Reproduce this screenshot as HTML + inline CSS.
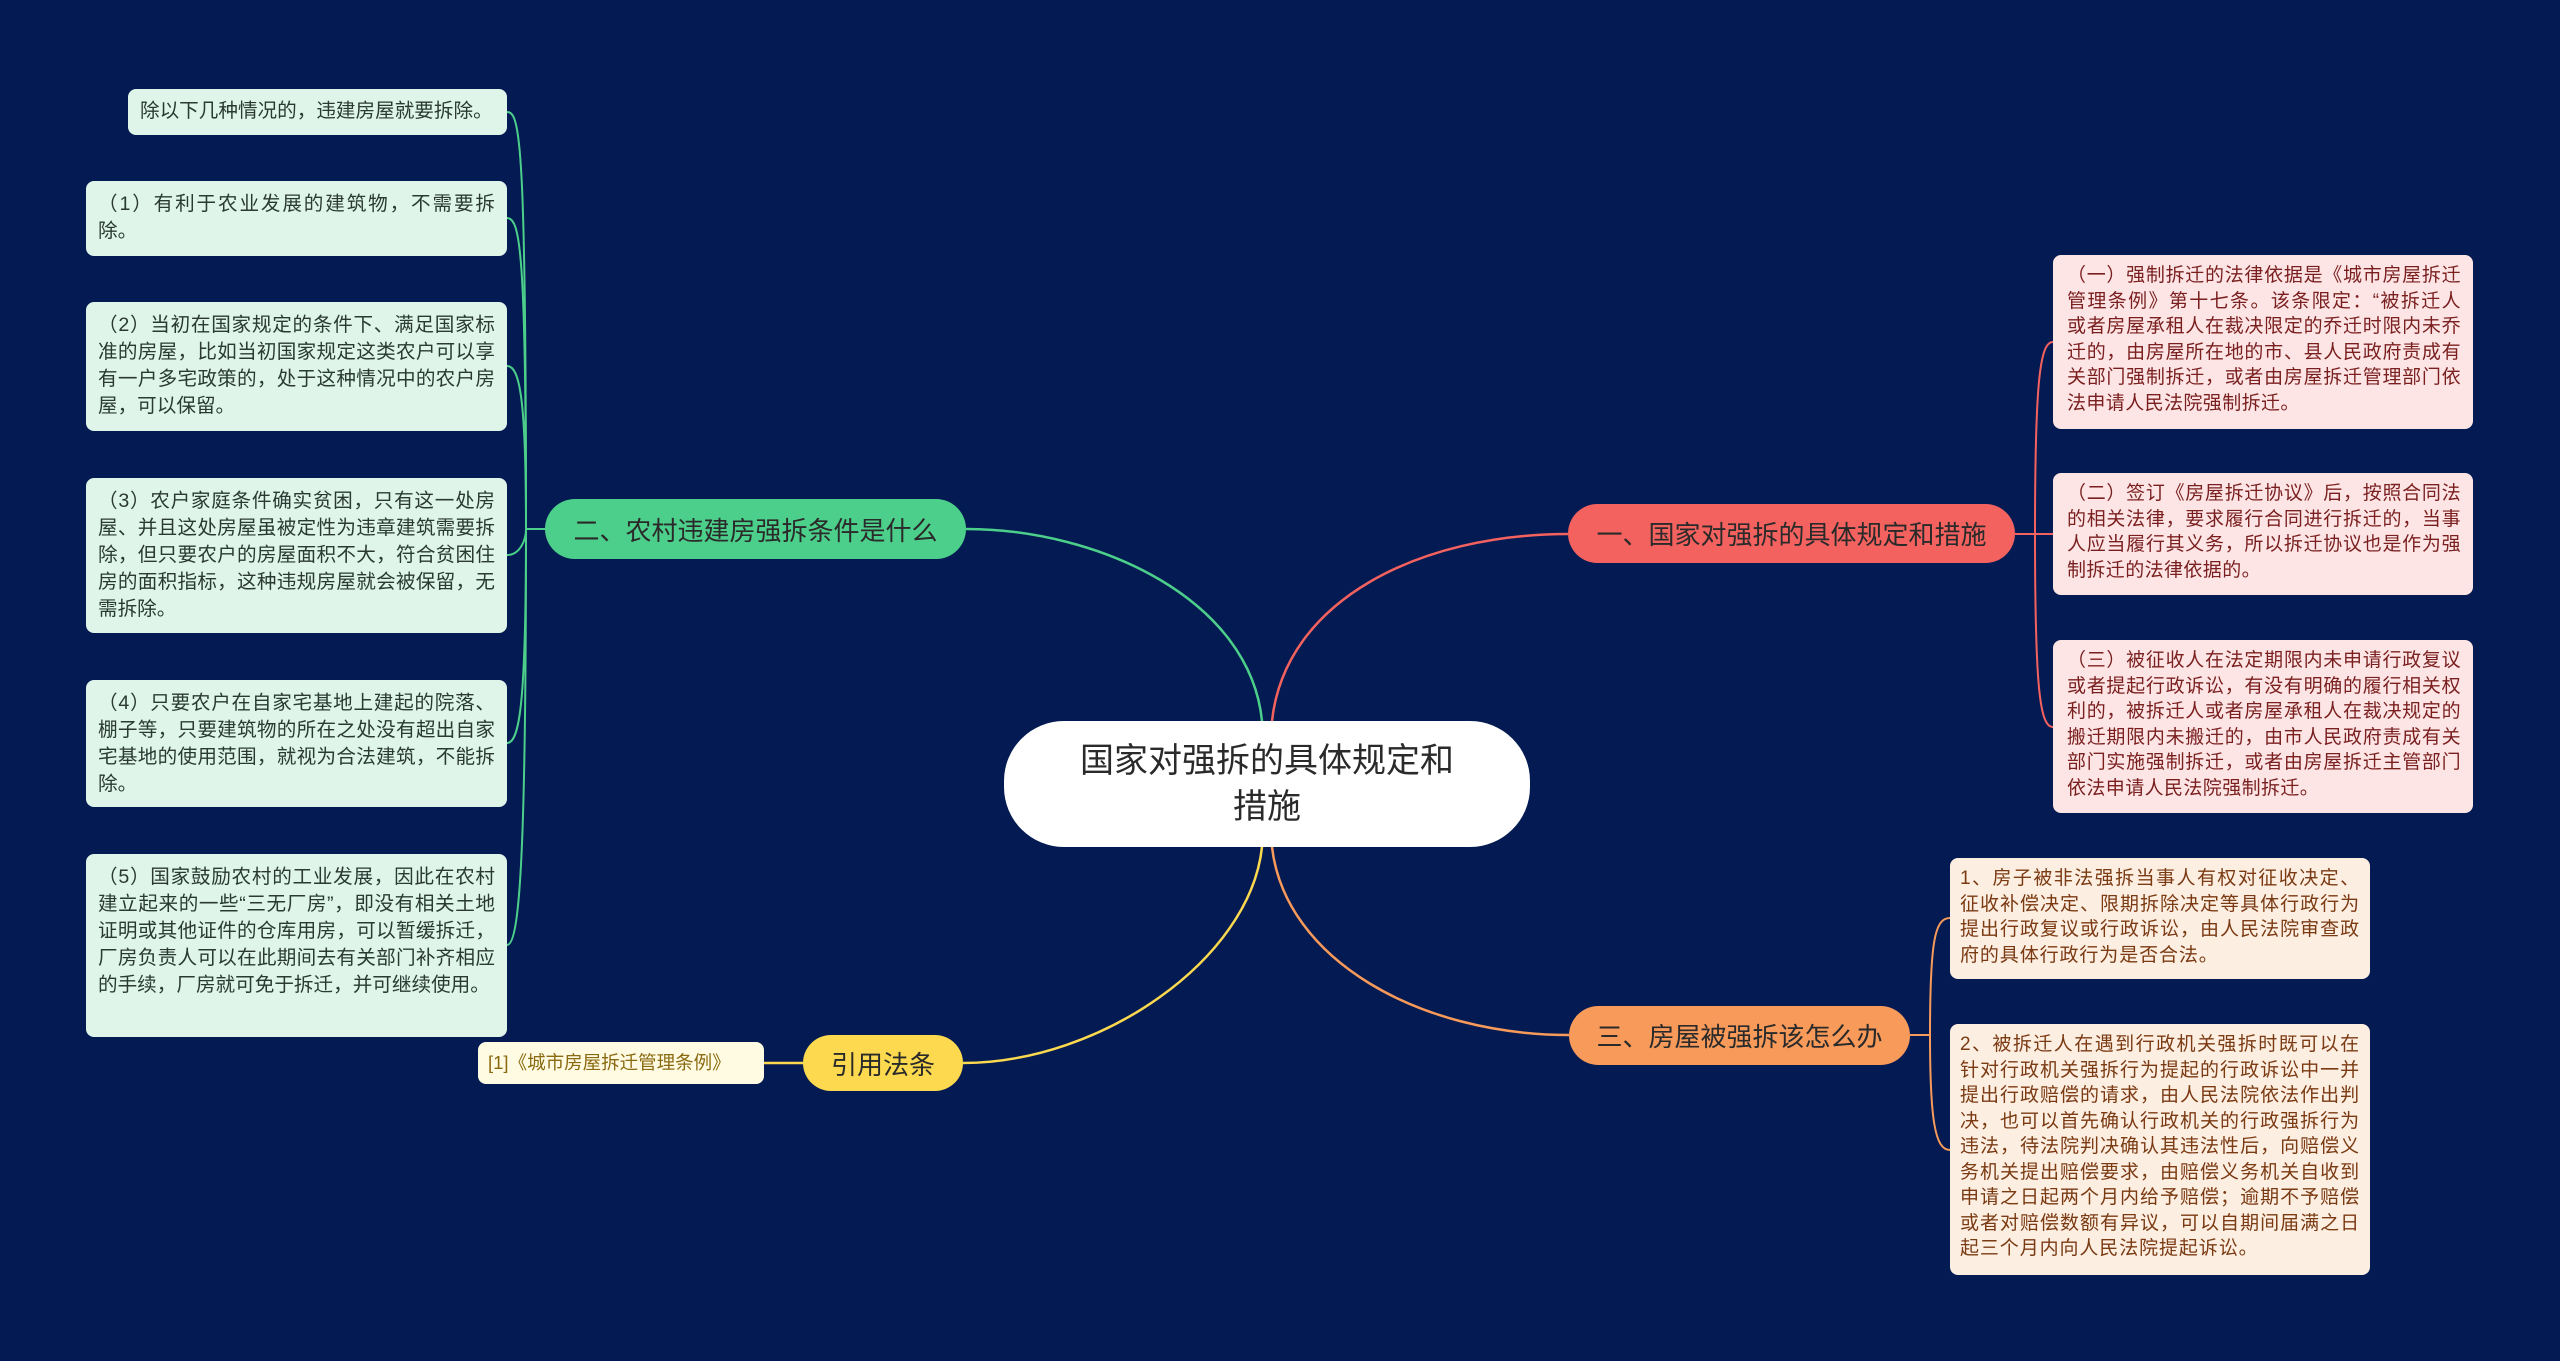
<!DOCTYPE html>
<html><head><meta charset="utf-8"><style>
body{margin:0;width:2560px;height:1361px;background:#031a52;position:relative;overflow:hidden;font-family:"Liberation Sans","Noto Sans CJK SC",sans-serif}
.b{position:absolute;box-sizing:border-box;border-radius:8px;font-size:19.6px;line-height:27px;padding:6px 12px;word-break:break-all;text-align:justify}
.g{background:#dff5ea;color:#2a3a33}
.p{background:#fde5e5;color:#7a1f1f;font-size:19px;letter-spacing:0.4px;line-height:25.5px;padding:8px 12px 8px 14px}
.o{background:#fdeee2;color:#7a3a12;font-size:19px;letter-spacing:0.9px;line-height:25.5px;padding:8px 10px}
.n{position:absolute;box-sizing:border-box;display:flex;align-items:center;justify-content:center;font-size:26px;color:#2a2a2a;border-radius:30px}
svg{position:absolute;left:0;top:0}
</style></head><body>
<svg width="2560" height="1361" fill="none" stroke-width="2.5">
<path d="M1262 721 C1250 600 1100 529 966 529" stroke="#4ccf8a"/>
<path d="M1272 721 C1285 600 1420 534 1568 534" stroke="#f4625f"/>
<path d="M1272 847 C1285 960 1420 1035 1569 1035" stroke="#f79a5a"/>
<path d="M1262 847 C1250 960 1100 1063 963 1063" stroke="#fcd94e"/>
<path d="M764 1063 L803 1063" stroke="#fcd94e"/>
<g stroke="#4ccf8a" stroke-width="2">
<path d="M545 529 L526 529"/>
<path d="M526 529 C526 140 520 112 507 112"/>
<path d="M526 529 C526 250 520 218 507 218"/>
<path d="M526 529 C526 400 520 366 507 366"/>
<path d="M526 529 C526 540 520 555 507 555"/>
<path d="M526 529 C526 700 520 743 507 743"/>
<path d="M526 529 C526 850 520 945 507 945"/>
</g>
<g stroke="#f4625f" stroke-width="2">
<path d="M2015 534 L2035 534"/>
<path d="M2035 534 C2035 380 2040 342 2053 342"/>
<path d="M2035 534 L2053 534"/>
<path d="M2035 534 C2035 690 2040 727 2053 727"/>
</g>
<g stroke="#f79a5a" stroke-width="2">
<path d="M1910 1035 L1930 1035"/>
<path d="M1930 1035 C1930 940 1935 918 1950 918"/>
<path d="M1930 1035 C1930 1120 1935 1150 1950 1150"/>
</g>
</svg>
<div class="b g" style="left:128px;top:89px;width:379px;height:46px;padding-top:9px">除以下几种情况的，违建房屋就要拆除。</div>
<div class="b g" style="left:86px;top:181px;width:421px;height:75px;padding-top:10px">（1）有利于农业发展的建筑物，不需要拆除。</div>
<div class="b g" style="left:86px;top:302px;width:421px;height:129px;padding-top:10px">（2）当初在国家规定的条件下、满足国家标准的房屋，比如当初国家规定这类农户可以享有一户多宅政策的，处于这种情况中的农户房屋，可以保留。</div>
<div class="b g" style="left:86px;top:478px;width:421px;height:155px;padding-top:10px">（3）农户家庭条件确实贫困，只有这一处房屋、并且这处房屋虽被定性为违章建筑需要拆除，但只要农户的房屋面积不大，符合贫困住房的面积指标，这种违规房屋就会被保留，无需拆除。</div>
<div class="b g" style="left:86px;top:680px;width:421px;height:127px;padding-top:10px">（4）只要农户在自家宅基地上建起的院落、棚子等，只要建筑物的所在之处没有超出自家宅基地的使用范围，就视为合法建筑，不能拆除。</div>
<div class="b g" style="left:86px;top:854px;width:421px;height:183px;padding-top:10px">（5）国家鼓励农村的工业发展，因此在农村建立起来的一些“三无厂房”，即没有相关土地证明或其他证件的仓库用房，可以暂缓拆迁，厂房负责人可以在此期间去有关部门补齐相应的手续，厂房就可免于拆迁，并可继续使用。</div>
<div class="n" style="left:545px;top:499px;width:421px;height:60px;background:#4ccf8a">二、农村违建房强拆条件是什么</div>
<div class="n" style="left:1004px;top:721px;width:526px;height:126px;background:#fff;border-radius:60px;font-size:34px;line-height:46px;text-align:center;padding:0 60px">国家对强拆的具体规定和措施</div>
<div class="n" style="left:1568px;top:504px;width:447px;height:59px;background:#f4625f">一、国家对强拆的具体规定和措施</div>
<div class="n" style="left:1569px;top:1006px;width:341px;height:59px;background:#f79a5a">三、房屋被强拆该怎么办</div>
<div class="n" style="left:803px;top:1035px;width:160px;height:56px;background:#fcd94e">引用法条</div>
<div class="b" style="left:478px;top:1042px;width:286px;height:42px;background:#fffbe2;color:#8a6a10;font-size:18.5px;padding:7px 10px">[1]《城市房屋拆迁管理条例》</div>
<div class="b p" style="left:2053px;top:255px;width:420px;height:174px">（一）强制拆迁的法律依据是《城市房屋拆迁管理条例》第十七条。该条限定：“被拆迁人或者房屋承租人在裁决限定的乔迁时限内未乔迁的，由房屋所在地的市、县人民政府责成有关部门强制拆迁，或者由房屋拆迁管理部门依法申请人民法院强制拆迁。</div>
<div class="b p" style="left:2053px;top:473px;width:420px;height:122px">（二）签订《房屋拆迁协议》后，按照合同法的相关法律，要求履行合同进行拆迁的，当事人应当履行其义务，所以拆迁协议也是作为强制拆迁的法律依据的。</div>
<div class="b p" style="left:2053px;top:640px;width:420px;height:173px">（三）被征收人在法定期限内未申请行政复议或者提起行政诉讼，有没有明确的履行相关权利的，被拆迁人或者房屋承租人在裁决规定的搬迁期限内未搬迁的，由市人民政府责成有关部门实施强制拆迁，或者由房屋拆迁主管部门依法申请人民法院强制拆迁。</div>
<div class="b o" style="left:1950px;top:858px;width:420px;height:121px">1、房子被非法强拆当事人有权对征收决定、征收补偿决定、限期拆除决定等具体行政行为提出行政复议或行政诉讼，由人民法院审查政府的具体行政行为是否合法。</div>
<div class="b o" style="left:1950px;top:1024px;width:420px;height:251px">2、被拆迁人在遇到行政机关强拆时既可以在针对行政机关强拆行为提起的行政诉讼中一并提出行政赔偿的请求，由人民法院依法作出判决，也可以首先确认行政机关的行政强拆行为违法，待法院判决确认其违法性后，向赔偿义务机关提出赔偿要求，由赔偿义务机关自收到申请之日起两个月内给予赔偿；逾期不予赔偿或者对赔偿数额有异议，可以自期间届满之日起三个月内向人民法院提起诉讼。</div>
</body></html>
